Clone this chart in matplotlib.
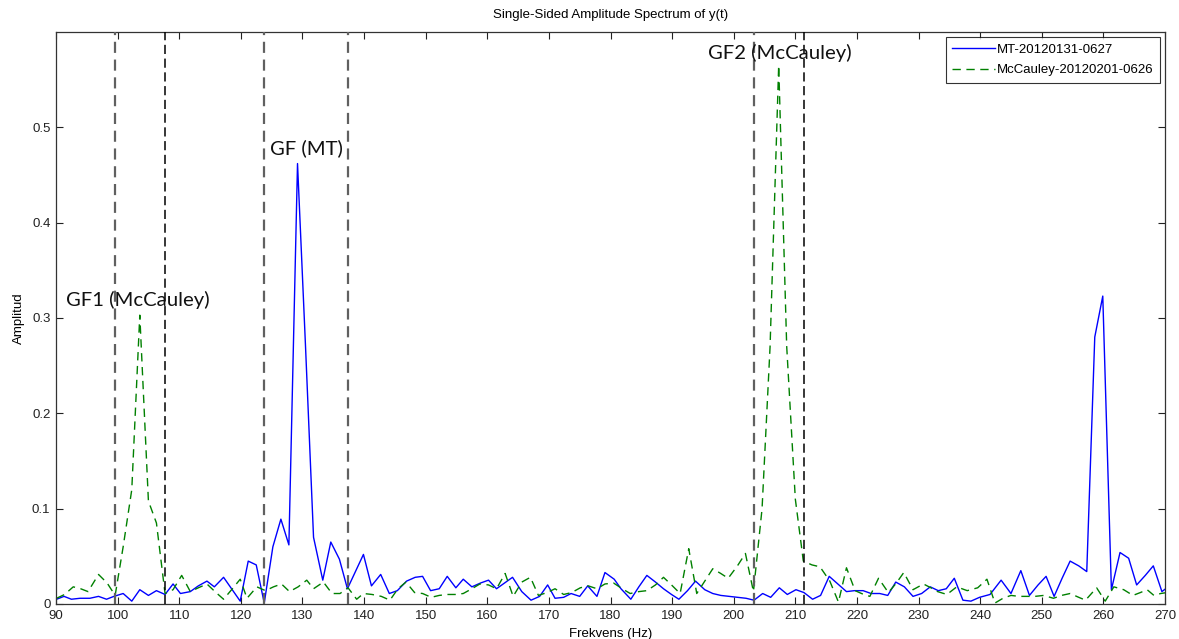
import matplotlib
matplotlib.use("Agg")
import matplotlib.pyplot as plt

# ---- data ----
mt_freq = [90.1, 91.3, 92.5, 93.9, 95.5, 96.9, 98.2, 99.4, 100.9, 102.3, 103.6, 105.0, 106.3, 107.7,
           109.0, 110.2, 111.8, 113.1, 114.5, 115.7, 117.2, 118.5, 119.9, 121.2, 122.5, 123.8, 125.2,
           126.5, 127.8, 129.2, 130.5, 131.8, 133.3, 134.6, 136.0, 137.3, 138.6, 139.9, 141.2, 142.7,
           144.1, 145.4, 146.9, 148.3, 149.5, 150.8, 152.2, 153.5, 154.9, 156.1, 157.5, 158.9, 160.2,
           161.5, 162.8, 164.1, 165.6, 167.1, 168.5, 169.8, 171.0, 172.4, 173.6, 175.0, 176.3, 177.8,
           179.1, 180.6, 181.7, 183.3, 184.6, 185.9, 187.3, 188.6, 189.9, 191.1, 192.5, 193.8, 195.3,
           196.6, 197.9, 199.3, 200.7, 202.0, 203.3, 204.7, 206.0, 207.4, 208.7, 210.1, 211.4, 212.8,
           214.1, 215.5, 216.9, 218.3, 219.6, 221.0, 222.3, 223.7, 225.0, 226.3, 227.7, 229.1, 230.5,
           231.9, 233.2, 234.5, 235.8, 237.2, 238.5, 239.9, 241.6, 243.4, 245.0, 246.6, 248.0, 249.4,
           250.7, 252.0, 253.3, 254.6, 256.0, 257.3, 258.6, 259.9, 261.3, 262.7, 264.1, 265.4, 266.8,
           268.1, 269.5, 270.3]
mt_amp = [0.005, 0.008, 0.005, 0.006, 0.006, 0.008, 0.005, 0.008, 0.011, 0.003, 0.015, 0.009, 0.014, 0.010,
          0.021, 0.011, 0.013, 0.019, 0.024, 0.018, 0.028, 0.016, 0.003, 0.045, 0.041, 0.001, 0.060,
          0.089, 0.062, 0.462, 0.270, 0.070, 0.025, 0.065, 0.047, 0.016, 0.034, 0.052, 0.019, 0.031,
          0.011, 0.014, 0.024, 0.028, 0.029, 0.014, 0.016, 0.029, 0.017, 0.026, 0.018, 0.022, 0.025,
          0.016, 0.022, 0.028, 0.013, 0.004, 0.008, 0.020, 0.006, 0.007, 0.011, 0.008, 0.019, 0.008,
          0.033, 0.026, 0.016, 0.005, 0.018, 0.030, 0.023, 0.016, 0.010, 0.005, 0.014, 0.024, 0.015,
          0.011, 0.009, 0.008, 0.007, 0.006, 0.004, 0.011, 0.007, 0.017, 0.010, 0.015, 0.012, 0.005,
          0.009, 0.029, 0.021, 0.013, 0.014, 0.014, 0.011, 0.011, 0.009, 0.023, 0.018, 0.008, 0.011,
          0.018, 0.014, 0.016, 0.027, 0.004, 0.003, 0.007, 0.010, 0.025, 0.011, 0.035, 0.009, 0.020,
          0.029, 0.008, 0.027, 0.045, 0.040, 0.034, 0.280, 0.323, 0.015, 0.054, 0.048, 0.020, 0.030,
          0.040, 0.013, 0.017]

mc_freq = [90.1, 91.4, 92.8, 94.0, 95.2, 96.9, 98.3, 99.6, 100.9, 102.3, 103.6, 105.0, 106.3, 107.7,
           109.0, 110.4, 111.8, 113.1, 114.5, 115.8, 117.2, 118.5, 119.9, 121.0, 122.6, 124.0, 125.3,
           126.6, 127.9, 129.3, 130.7, 131.8, 133.4, 134.8, 136.1, 137.4, 138.8, 139.9, 141.3, 142.8,
           144.2, 145.5, 146.8, 148.2, 149.5, 150.9, 152.2, 153.5, 154.9, 156.1, 157.5, 158.8, 160.2,
           161.5, 162.9, 164.2, 165.6, 167.0, 168.3, 169.7, 171.0, 172.4, 173.7, 175.1, 176.4, 177.8,
           179.1, 180.5, 181.9, 183.2, 184.6, 185.9, 187.3, 188.6, 189.9, 191.3, 192.7, 194.0, 195.3,
           196.6, 197.9, 199.1, 200.6, 201.9, 203.2, 204.6, 205.9, 207.3, 208.6, 210.0, 211.3, 212.7,
           214.0, 215.6, 217.0, 218.3, 219.7, 221.1, 222.1, 223.5, 225.1, 226.4, 227.6, 229.1, 230.8,
           232.0, 233.1, 234.6, 236.2, 237.9, 239.6, 241.1, 242.4, 243.7, 245.0, 246.3, 247.6, 248.9,
           250.3, 251.9, 253.2, 254.6, 256.0, 257.1, 258.9, 260.3, 261.7, 263.3, 264.8, 266.0, 267.1,
           268.2, 269.3, 270.3]
mc_amp = [0.006, 0.010, 0.018, 0.016, 0.013, 0.031, 0.022, 0.009, 0.060, 0.120, 0.303, 0.108, 0.085, 0.011,
          0.015, 0.030, 0.013, 0.017, 0.021, 0.013, 0.005, 0.015, 0.026, 0.006, 0.018, 0.014, 0.018,
          0.021, 0.013, 0.018, 0.025, 0.016, 0.023, 0.011, 0.011, 0.017, 0.005, 0.011, 0.010, 0.008,
          0.004, 0.016, 0.023, 0.012, 0.011, 0.007, 0.009, 0.010, 0.010, 0.011, 0.016, 0.021, 0.020,
          0.016, 0.032, 0.008, 0.023, 0.028, 0.009, 0.012, 0.016, 0.010, 0.012, 0.017, 0.019, 0.016,
          0.021, 0.022, 0.016, 0.011, 0.013, 0.014, 0.020, 0.028, 0.020, 0.011, 0.058, 0.011, 0.024,
          0.037, 0.032, 0.027, 0.040, 0.053, 0.013, 0.100, 0.270, 0.565, 0.270, 0.110, 0.045, 0.041,
          0.039, 0.024, 0.002, 0.038, 0.014, 0.010, 0.008, 0.027, 0.012, 0.022, 0.033, 0.015, 0.021,
          0.017, 0.013, 0.010, 0.018, 0.014, 0.017, 0.026, 0.001, 0.006, 0.009, 0.008, 0.008, 0.008,
          0.009, 0.006, 0.009, 0.011, 0.007, 0.004, 0.017, 0.003, 0.018, 0.015, 0.009, 0.012, 0.015,
          0.009, 0.011, 0.012]

band_lines_grey = [99.6, 123.8, 137.4, 203.3]
band_lines_black = [107.7, 211.4]

annotations = ["GF1 (McCauley)", "GF (MT)", "GF2 (McCauley)"]
annot_pos = [(91.7, 0.313), (124.8, 0.472), (195.8, 0.572)]

x_ticks = list(range(90, 271, 10))
y_ticks = [0, 0.1, 0.2, 0.3, 0.4, 0.5]
y_ticklabels = ["0", "0.1", "0.2", "0.3", "0.4", "0.5"]

series_labels = ["MT-20120131-0627", "McCauley-20120201-0626"]

# ---- plot ----
plt.rcParams['font.family'] = ['Liberation Sans', 'DejaVu Sans']
fig = plt.figure(figsize=(11.79, 6.39), dpi=100)
ax = fig.add_axes([56/1179, 1 - 604/639, (1165-56)/1179, (604-32)/639])

ax.plot(mt_freq, mt_amp, color='#0000ff', lw=1.0, label=series_labels[0])
ax.plot(mc_freq, mc_amp, color='#008000', lw=1.0, ls=(0, (6, 4)), label=series_labels[1])

for f in band_lines_grey:
    ax.axvline(f, color='#606060', lw=1.6, ls=(0, (5, 3)), zorder=3)
for f in band_lines_black:
    ax.axvline(f, color='black', lw=1.1, ls=(0, (6, 3)), zorder=3)

for txt, (fx, fy) in zip(annotations, annot_pos):
    ax.text(fx, fy, txt, family=['Lato', 'DejaVu Sans'], fontsize=14.6, color='#111111',
            ha='left', va='baseline')

ax.set_xlim(90, 270)
ax.set_ylim(0, 0.6)
ax.set_xticks(x_ticks)
ax.set_yticks(y_ticks)
ax.set_yticklabels(y_ticklabels)
ax.tick_params(direction='in', top=True, right=True, length=5, labelsize=9.5,
               colors='#222222', pad=4)
for s in ax.spines.values():
    s.set_color('#333333')
    s.set_linewidth(0.9)

ax.set_title("Single-Sided Amplitude Spectrum of y(t)", fontsize=9.5, pad=10)
ax.set_xlabel("Frekvens (Hz)", fontsize=9.5, labelpad=5)
ax.set_ylabel("Amplitud", fontsize=9.5, labelpad=5)

leg = ax.legend(loc='upper right', fontsize=9.5, frameon=True, fancybox=False,
                edgecolor='black', borderaxespad=0.4, handlelength=3.2,
                borderpad=0.5, labelspacing=0.6, handletextpad=0.15)
leg.get_frame().set_linewidth(0.8)

fig.savefig("out.png", dpi=100)
